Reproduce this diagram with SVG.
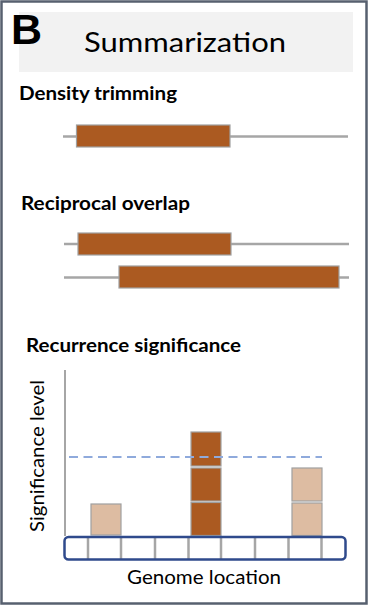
<svg xmlns="http://www.w3.org/2000/svg" width="369" height="609" viewBox="0 0 369 609">
<style>
.hd{font-family:Lato,"Liberation Sans",Arial,sans-serif;font-weight:bold;fill:#000}
.tx{font-family:Lato,"Liberation Sans",Arial,sans-serif;fill:#000}
.bb{font-family:"Liberation Sans",Arial,sans-serif;font-weight:bold;fill:#000}
.ln{stroke:#a6a6a6;stroke-width:2.5;fill:none}
.br{fill:#ab5a21;stroke:#a0a0a0;stroke-width:1.2}
.lt{fill:#ddbca2;stroke:#a0a0a0;stroke-width:1.2}
.dv{stroke:#a6a6a6;stroke-width:2.5}
</style>
<rect x="1.5" y="1.5" width="365" height="602" fill="#fff" stroke="#57606f" stroke-width="2.5"/>
<g id="title">
<rect x="19" y="12" width="334" height="60" fill="#f2f2f2"/>
<text class="bb" x="11" y="44" font-size="43">B</text>
<text class="tx" x="84" y="52" font-size="27" textLength="202" lengthAdjust="spacingAndGlyphs">Summarization</text>
</g>
<g id="density">
<text class="hd" x="19" y="100" font-size="19" textLength="158" lengthAdjust="spacingAndGlyphs">Density trimming</text>
<line class="ln" x1="63" y1="136.5" x2="348" y2="136.5"/>
<rect class="br" x="76.5" y="125" width="153.5" height="22"/>
</g>
<g id="reciprocal">
<text class="hd" x="21" y="210" font-size="19" textLength="169" lengthAdjust="spacingAndGlyphs">Reciprocal overlap</text>
<line class="ln" x1="64" y1="244" x2="349" y2="244"/>
<rect class="br" x="78" y="233" width="153" height="22"/>
<line class="ln" x1="64" y1="277.5" x2="349" y2="277.5"/>
<rect class="br" x="119" y="266" width="220" height="22"/>
</g>
<g id="recurrence">
<text class="hd" x="26" y="352" font-size="19" textLength="215" lengthAdjust="spacingAndGlyphs">Recurrence significance</text>
<line x1="65" y1="370" x2="65" y2="536" stroke="#a6a6a6" stroke-width="2"/>
<text class="tx" transform="translate(44,532) rotate(-90)" font-size="19.5" textLength="152" lengthAdjust="spacingAndGlyphs">Significance level</text>
<rect class="lt" x="91" y="504" width="30" height="31"/>
<rect class="br" x="191" y="432" width="30" height="34"/>
<rect class="br" x="191" y="468" width="30" height="33"/>
<rect class="br" x="191" y="502.5" width="30" height="33"/>
<rect class="lt" x="292" y="468" width="30" height="33"/>
<rect class="lt" x="292" y="503" width="30" height="32.5"/>
<line x1="69" y1="457" x2="322" y2="457" stroke="#8faadc" stroke-width="2" stroke-dasharray="9,5.5"/>
<g id="track">
<line class="dv" x1="88" y1="537" x2="88" y2="560"/>
<line class="dv" x1="121" y1="537" x2="121" y2="560"/>
<line class="dv" x1="155" y1="537" x2="155" y2="560"/>
<line class="dv" x1="188.5" y1="537" x2="188.5" y2="560"/>
<line class="dv" x1="221" y1="537" x2="221" y2="560"/>
<line class="dv" x1="255" y1="537" x2="255" y2="560"/>
<line class="dv" x1="288.5" y1="537" x2="288.5" y2="560"/>
<line class="dv" x1="321.5" y1="537" x2="321.5" y2="560"/>
<rect x="64.5" y="537" width="281" height="22.5" rx="4" fill="none" stroke="#2f4a8c" stroke-width="2.5"/>
</g>
<text class="tx" x="127" y="584" font-size="19.5" textLength="154" lengthAdjust="spacingAndGlyphs">Genome location</text>
</g>
</svg>
